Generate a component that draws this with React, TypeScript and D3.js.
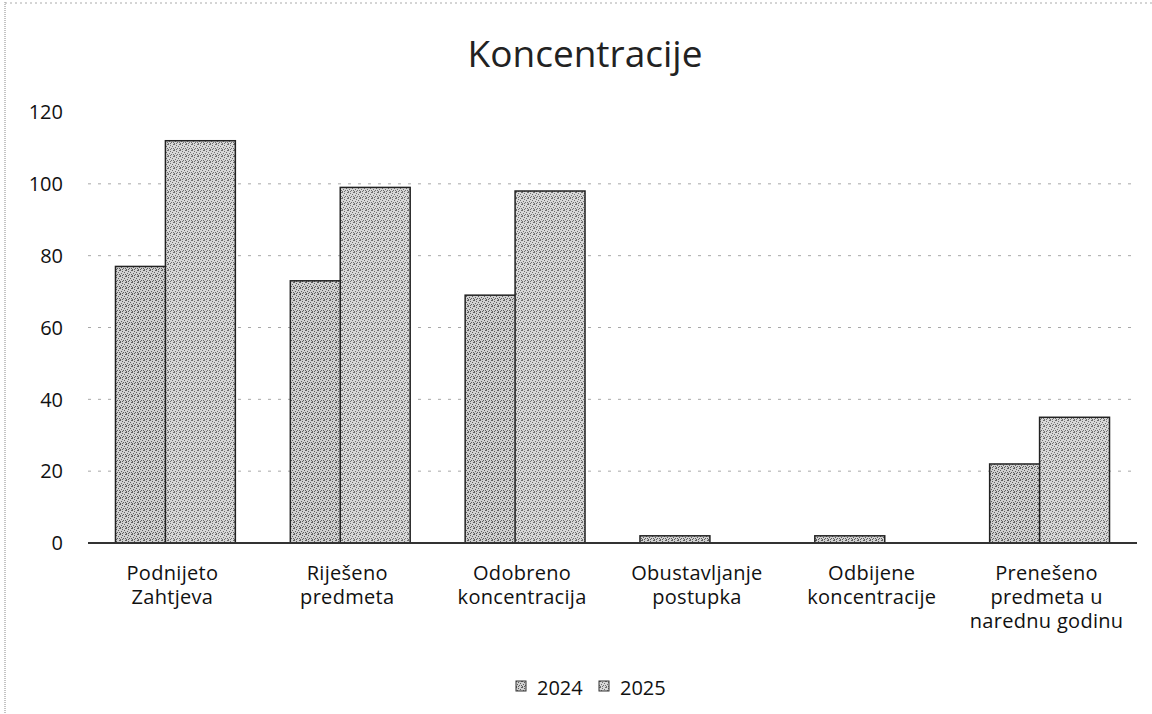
import * as d3 from "d3";
import { useEffect, useRef } from "react";

const categories = [
  ["Podnijeto", "Zahtjeva"],
  ["Riješeno", "predmeta"],
  ["Odobreno", "koncentracija"],
  ["Obustavljanje", "postupka"],
  ["Odbijene", "koncentracije"],
  ["Prenešeno", "predmeta u", "narednu godinu"],
];
const series2024 = [77, 73, 69, 2, 2, 22];
const series2025 = [112, 99, 98, 0, 0, 35];
const seriesNames = ["2024", "2025"];
const yTicks = [0, 20, 40, 60, 80, 100, 120];

export default function App() {
  const ref = useRef<SVGSVGElement>(null);

  useEffect(() => {
    if (!ref.current) return;
    const width = 1152;
    const height = 714;
    const m = { left: 88, right: 15, top: 112, bottom: 171 };
    const font = "'Open Sans', 'Noto Sans', sans-serif";

    const svg = d3.select(ref.current);
    svg.selectAll("*").remove();
    svg.attr("viewBox", `0 0 ${width} ${height}`);

    // speckled grey fill, like the scanned print
    const defs = svg.append("defs");
    const dots: [number, number][] = [[0, 0], [2, 1], [5, 0], [1, 3], [4, 2], [3, 4], [0, 5], [5, 4], [2, 5]];
    const mkPattern = (id: string, base: string, dot: string) => {
      const p = defs.append("pattern").attr("id", id).attr("width", 6).attr("height", 6).attr("patternUnits", "userSpaceOnUse");
      p.append("rect").attr("width", 6).attr("height", 6).attr("fill", base);
      dots.forEach(([dx, dy]) => {
        p.append("rect").attr("x", dx).attr("y", dy).attr("width", 1).attr("height", 1).attr("fill", dot);
      });
    };
    mkPattern("p2024", "#d0d0d0", "#5e5e5e");
    mkPattern("p2025", "#d8d8d8", "#707070");

    // scan frame
    svg.append("line").attr("x1", 5).attr("x2", 5).attr("y1", 2).attr("y2", height)
      .attr("stroke", "#888").attr("stroke-dasharray", "1 1");
    svg.append("line").attr("x1", 5).attr("x2", width).attr("y1", 3).attr("y2", 3)
      .attr("stroke", "#aaa").attr("stroke-dasharray", "2 3");

    const x = d3.scaleBand<number>().domain(d3.range(categories.length)).range([m.left, width - m.right]);
    const y = d3.scaleLinear().domain([0, 120]).range([height - m.bottom, m.top]);

    svg.append("text").attr("x", 585).attr("y", 67).attr("text-anchor", "middle")
      .attr("font-family", font).attr("font-size", 37).attr("fill", "#222").text("Koncentracije");

    // grid
    svg.append("g").selectAll("line").data(yTicks.filter((t) => t > 0 && t < 120)).join("line")
      .attr("x1", m.left).attr("x2", width - m.right)
      .attr("y1", (d) => y(d)).attr("y2", (d) => y(d))
      .attr("stroke", "#a8a8a8").attr("stroke-width", 1).attr("stroke-dasharray", "3 7");

    svg.append("g").selectAll("text").data(yTicks).join("text")
      .attr("x", 63).attr("y", (d) => y(d)).attr("dy", "0.36em").attr("text-anchor", "end")
      .attr("font-family", font).attr("font-size", 20).attr("fill", "#111").text((d) => d);

    const bw = x.bandwidth();
    const w = bw * 0.4;
    const overlap = w * 0.286;
    const groupW = 2 * w - overlap;
    const all = [series2024, series2025];
    all.forEach((vals, s) => {
      svg.append("g").selectAll("rect").data(vals).join("rect")
        .attr("x", (_, i) => (x(i) ?? 0) + bw / 2 - groupW / 2 + s * (w - overlap))
        .attr("y", (d) => y(d))
        .attr("width", w)
        .attr("height", (d) => y(0) - y(d))
        .attr("fill", `url(#p${seriesNames[s]})`)
        .attr("stroke", "#222").attr("stroke-width", 1.5);
    });

    // baseline
    svg.append("line").attr("x1", m.left).attr("x2", width - m.right)
      .attr("y1", y(0)).attr("y2", y(0)).attr("stroke", "#333").attr("stroke-width", 2);

    const labels = svg.append("g");
    categories.forEach((lines, i) => {
      lines.forEach((ln, k) => {
        labels.append("text").attr("text-anchor", "middle")
          .attr("font-family", font).attr("font-size", 20).attr("letter-spacing", 0.3).attr("fill", "#111")
          .attr("x", (x(i) ?? 0) + bw / 2 - 3).attr("y", 580 + k * 24).text(ln);
      });
    });

    // legend
    const legend = svg.append("g").attr("transform", "translate(516, 681)");
    seriesNames.forEach((name, s) => {
      const gx = s * 83;
      legend.append("rect").attr("x", gx).attr("y", 0).attr("width", 10).attr("height", 10)
        .attr("fill", `url(#p${name})`).attr("stroke", "#333");
      legend.append("text").attr("x", gx + 21).attr("y", 7).attr("dy", "0.35em")
        .attr("font-family", font).attr("font-size", 20).attr("fill", "#111").text(name);
    });
  }, []);

  return (
    <svg ref={ref} width={1152} height={714} style={{ position: "absolute", left: 0, top: 0, background: "#fff" }} />
  );
}
